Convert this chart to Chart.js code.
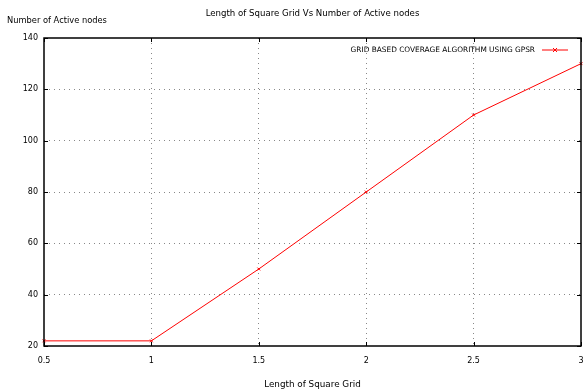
<!DOCTYPE html>
<html>
<head>
<meta charset="utf-8">
<script src="https://cdn.jsdelivr.net/npm/chart.js@4/dist/chart.umd.min.js"></script>
<style>
  html, body { margin: 0; padding: 0; background: #fff; }
  #wrap { width: 583px; height: 390px; }
</style>
</head>
<body>
<div id="wrap"><canvas id="gridChart" width="583" height="390"></canvas></div>
<script>
// data
const gridLength = [0.5, 1, 1.5, 2, 2.5, 3];
const activeNodes = [22, 22, 50, 80, 110, 130];
const xTicks = [0.5, 1, 1.5, 2, 2.5, 3];
const yTicks = [20, 40, 60, 80, 100, 120, 140];

const chartTitle = 'Length of Square Grid Vs Number of Active nodes';
const yLabel = 'Number of Active nodes';
const seriesName = 'GRID BASED COVERAGE ALGORITHM USING GPSR';
const FONT = 'DejaVu Sans';

// border, inner tick marks, titles and key drawn the gnuplot way
const gnuplotBits = {
    id: 'gnuplotBits',
    afterDatasetsDraw(chart) {
        const ctx = chart.ctx;
        const a = chart.chartArea;
        const xs = chart.scales.x, ys = chart.scales.y;
        ctx.save();
        ctx.strokeStyle = '#000';
        ctx.lineWidth = 1;
        ctx.beginPath();
        xTicks.forEach(v => {
            const px = Math.round(xs.getPixelForValue(v)) + 0.5;
            ctx.moveTo(px, a.bottom); ctx.lineTo(px, a.bottom - 4);
            ctx.moveTo(px, a.top); ctx.lineTo(px, a.top + 4);
        });
        yTicks.forEach(v => {
            const py = Math.round(ys.getPixelForValue(v)) + 0.5;
            ctx.moveTo(a.left, py); ctx.lineTo(a.left + 4, py);
            ctx.moveTo(a.right, py); ctx.lineTo(a.right - 4, py);
        });
        ctx.stroke();
        ctx.lineWidth = 1.5;
        ctx.strokeRect(a.left, a.top, a.right - a.left, a.bottom - a.top);

        ctx.fillStyle = '#000';
        ctx.textBaseline = 'middle';

        // main title, centred over the plot
        ctx.font = '8.6px "' + FONT + '"';
        ctx.textAlign = 'center';
        ctx.fillText(chartTitle, (a.left + a.right) / 2, 14);

        // y axis label, top left
        ctx.font = '8.3px "' + FONT + '"';
        ctx.textAlign = 'left';
        ctx.fillText(yLabel, 7, 21);

        // key, top right inside the plot
        const ky = a.top + 12;
        const lx1 = a.right - 39, lx2 = a.right - 13;
        ctx.font = '7.4px "' + FONT + '"';
        ctx.textAlign = 'right';
        ctx.fillText(seriesName, lx1 - 7, ky);
        ctx.strokeStyle = 'red';
        ctx.lineWidth = 1;
        ctx.beginPath();
        ctx.moveTo(lx1, ky); ctx.lineTo(lx2, ky);
        const mx = (lx1 + lx2) / 2;
        ctx.moveTo(mx - 2, ky - 2); ctx.lineTo(mx + 2, ky + 2);
        ctx.moveTo(mx + 2, ky - 2); ctx.lineTo(mx - 2, ky + 2);
        ctx.stroke();
        ctx.restore();
    }
};

const innerGrid = (ctx) => {
    const n = ctx.scale.ticks.length;
    return (ctx.index === 0 || ctx.index === n - 1) ? 'rgba(0,0,0,0)' : '#888';
};

new Chart(document.getElementById('gridChart'), {
    type: 'scatter',
    data: {
        datasets: [{
            label: seriesName,
            data: gridLength.map((x, i) => ({ x: x, y: activeNodes[i] })),
            showLine: true,
            borderColor: 'red',
            backgroundColor: 'red',
            borderWidth: 1,
            pointStyle: 'crossRot',
            pointRadius: 2,
            pointBorderWidth: 1,
            clip: false
        }]
    },
    options: {
        responsive: false,
        animation: false,
        devicePixelRatio: 1,
        layout: { autoPadding: false, padding: { left: 0, right: 2, top: 38, bottom: 0 } },
        plugins: {
            legend: { display: false },
            tooltip: { enabled: false },
            title: { display: false }
        },
        scales: {
            x: {
                type: 'linear',
                min: 0.5,
                max: 3,
                afterBuildTicks: (s) => { s.ticks = xTicks.map(v => ({ value: v })); },
                afterFit: (s) => { s.height = 44; s.paddingRight = 0; },
                ticks: {
                    color: '#000',
                    font: { family: FONT, size: 8 },
                    padding: 10,
                    maxRotation: 0,
                    callback: (v) => String(v)
                },
                grid: { color: innerGrid, drawTicks: false, lineWidth: 1 },
                border: { display: false, dash: [1, 4] },
                title: {
                    display: true,
                    text: 'Length of Square Grid',
                    color: '#000',
                    font: { family: FONT, size: 8.8 },
                    padding: { top: 11, bottom: 0 }
                }
            },
            y: {
                min: 20,
                max: 140,
                afterBuildTicks: (s) => { s.ticks = yTicks.map(v => ({ value: v })); },
                afterFit: (s) => { s.width = 44; },
                ticks: {
                    color: '#000',
                    font: { family: FONT, size: 8 },
                    padding: 6
                },
                grid: { color: innerGrid, drawTicks: false, lineWidth: 1 },
                border: { display: false, dash: [1, 4] }
            }
        }
    },
    plugins: [gnuplotBits]
});
</script>
</body>
</html>
